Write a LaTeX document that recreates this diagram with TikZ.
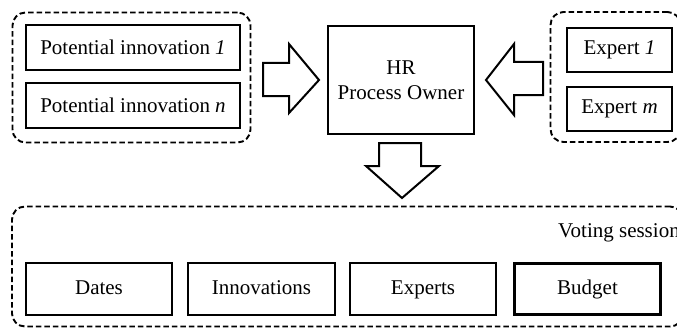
\documentclass[tikz,border=0pt]{standalone}
\usepackage{fontspec}
\setmainfont{Liberation Serif}
\begin{document}
\begin{tikzpicture}[x=1pt,y=-1pt,
  box/.style={draw,line width=2.5pt,inner sep=0pt,align=center,font=\fontsize{21}{25}\selectfont},
  rowbox/.style={box,text height=14.5pt,text depth=4.5pt},
  grp/.style={draw,line width=1.9pt,dash pattern=on 5.5pt off 3pt,rounded corners=13pt,inner sep=0pt},
  blockarrow/.style={draw,line width=2pt,line join=miter,fill=white}]
\useasboundingbox (0,0) rectangle (677,329);
\clip (0,0) rectangle (677,329);
% groups
\node[grp,minimum width=238pt,minimum height=130pt] (gl) at (131.5,77.5) {};
\node[grp,minimum width=130pt,minimum height=130pt] (gr) at (615.5,77) {};
\node[grp,minimum width=671pt,minimum height=120pt] (gb) at (347.5,266.5) {};
% boxes
\node[box,minimum width=214pt,minimum height=45pt] (p1) at (133,47.5) {Potential innovation \textit{1}};
\node[box,minimum width=214pt,minimum height=45pt] (pn) at (133,105.5) {Potential innovation \textit{n}};
\node[box,minimum width=146pt,minimum height=108pt] (hr) at (401,80) {HR\\Process Owner};
\node[box,minimum width=105pt,minimum height=44pt] (e1) at (619.5,50) {Expert \textit{1}};
\node[box,minimum width=105pt,minimum height=44pt] (em) at (619.5,109) {Expert \textit{m}};
\node[rowbox,minimum width=146pt,minimum height=52pt] (dates) at (99,289) {Dates};
\node[rowbox,minimum width=147pt,minimum height=52pt] (inno) at (261.5,289) {Innovations};
\node[rowbox,minimum width=146pt,minimum height=52pt] (exps) at (423,289) {Experts};
\node[rowbox,line width=3.6pt,minimum width=146pt,minimum height=51pt] (budg) at (587.5,289) {Budget};
\node[anchor=base west,inner sep=0pt,font=\fontsize{21}{25}\selectfont] (vs) at (558,237) {Voting session};
% block arrows
\draw[blockarrow] (263,63) -- (289,63) -- (289,44) -- (319,80) -- (289,113) -- (289,96) -- (263,96) -- cycle;
\draw[blockarrow] (543,62) -- (514,62) -- (514,44) -- (486,80) -- (514,115) -- (514,95) -- (543,95) -- cycle;
\draw[blockarrow] (379,143) -- (421,143) -- (421,166) -- (439,166) -- (402,198) -- (366,166) -- (379,166) -- cycle;
\end{tikzpicture}
\end{document}
